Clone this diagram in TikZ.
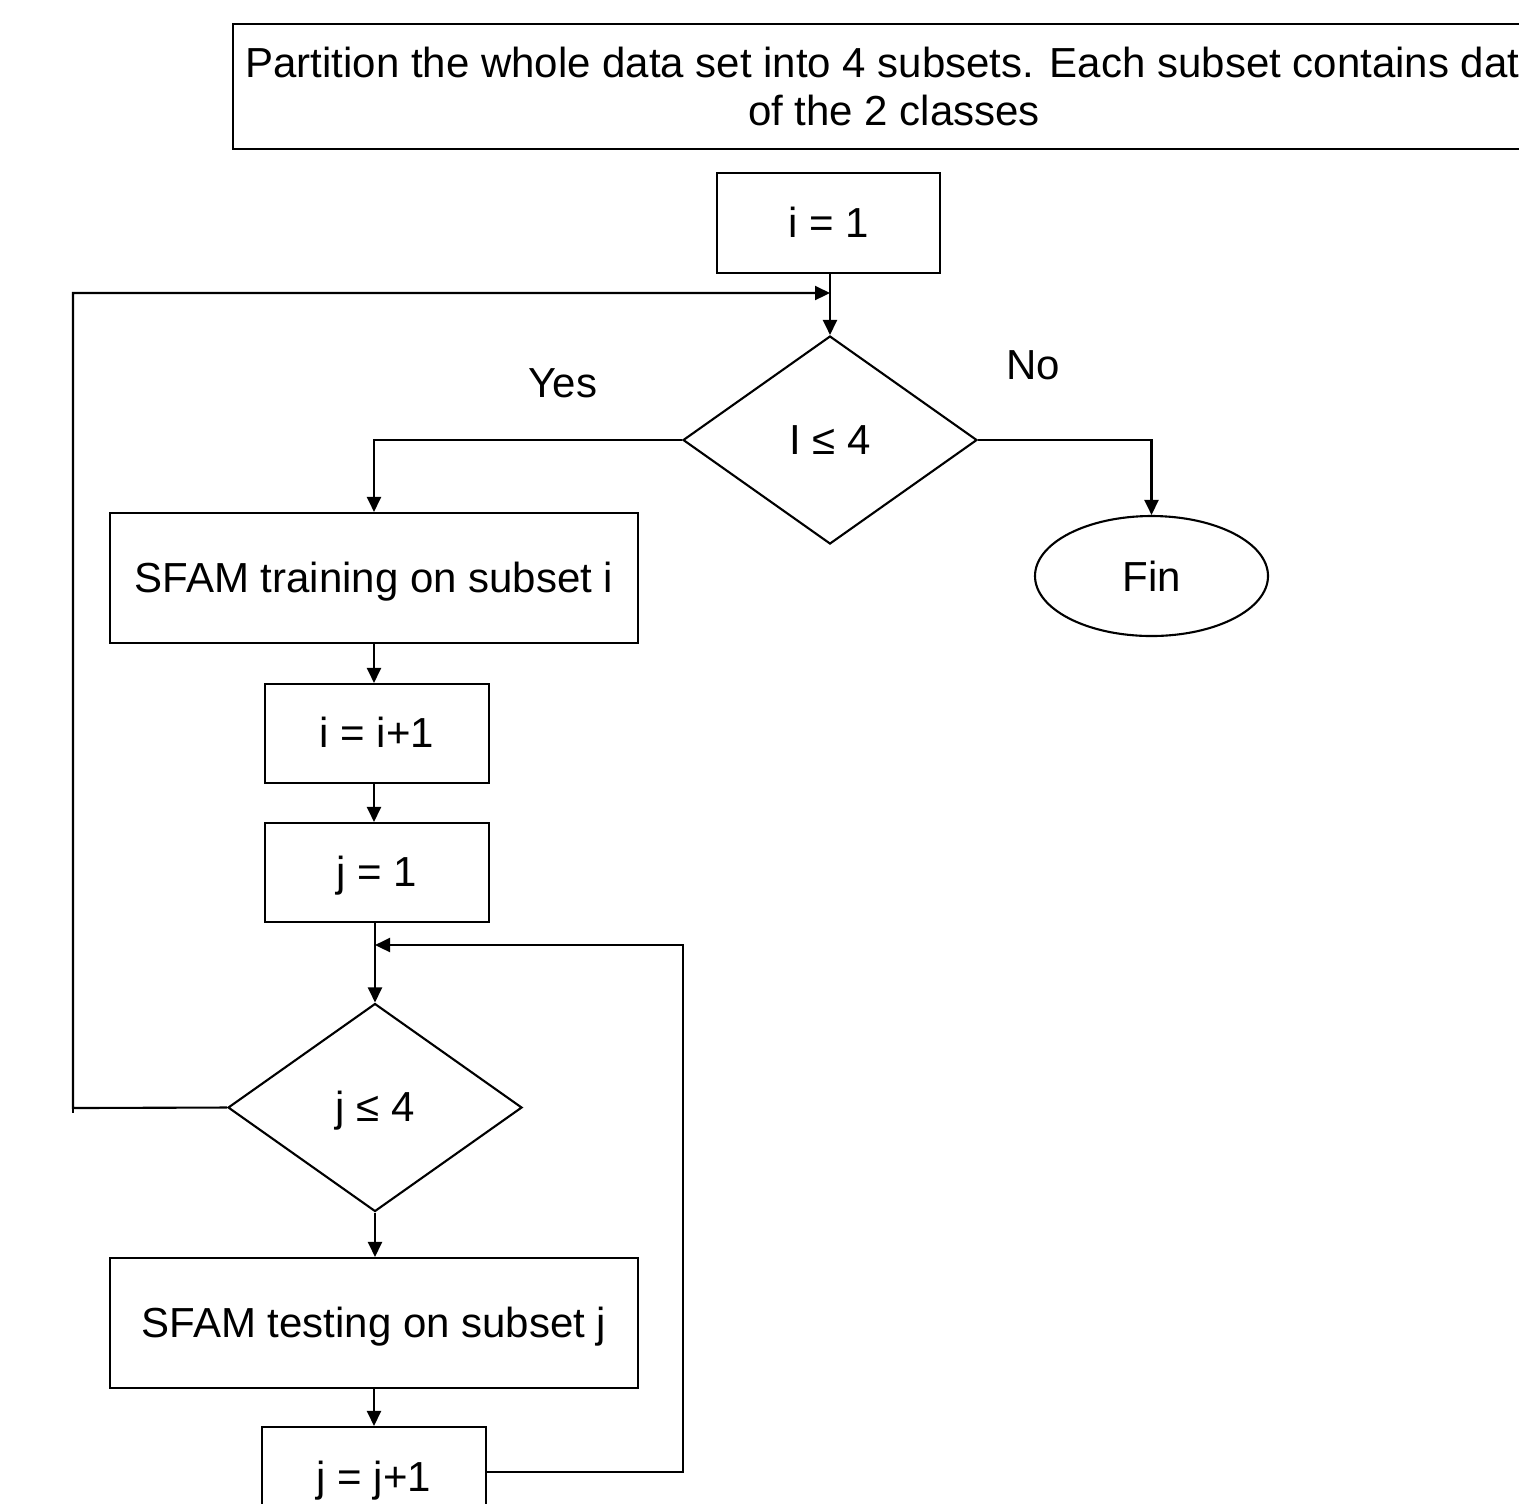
\documentclass[tikz,border=0pt]{standalone}
\usepackage{fontspec}
\setmainfont{Liberation Sans}
\usetikzlibrary{shapes.geometric,arrows.meta}
\begin{document}
\begin{tikzpicture}[
  every node/.style={font=\fontsize{11.95}{13.7}\selectfont},
  one/.style={text height=1.0em, text depth=0.2em},
  box/.style={draw, line width=0.6pt, rectangle, inner sep=0pt, align=center},
  dia/.style={draw, line width=0.6pt, diamond, inner sep=0pt, minimum width=2.94cm, minimum height=2.08cm, one},
  term/.style={draw, line width=0.6pt, ellipse, inner sep=0pt, minimum width=2.33cm, minimum height=1.20cm},
  conn/.style={line width=0.6pt, -{Triangle[length=0.15cm,width=0.14cm]}},
  plain/.style={line width=0.6pt},
  lbl/.style={inner sep=0pt}
]
\useasboundingbox (0,0) rectangle (15.19,-15.03);
\clip (0,0) rectangle (15.19,-15.03);
\fill[white] (0,0) rectangle (15.19,-15.03);

\node[box, minimum width=13.22cm, minimum height=1.25cm] (top) at (8.94,-0.865)
  {Partition the whole data set into 4 subsets. Each subset contains data\\of the 2 classes};
\node[box, one, minimum width=2.23cm, minimum height=1.00cm] (i1) at (8.285,-2.23) {i = 1};
\node[dia] (d1) at (8.30,-4.40) {I ≤ 4};
\node[term] (fin) at (11.515,-5.76) {Fin};
\node[box, one, minimum width=5.28cm, minimum height=1.30cm] (train) at (3.74,-5.78) {SFAM training on subset i};
\node[box, one, minimum width=2.24cm, minimum height=0.99cm] (inci) at (3.77,-7.335) {i = i+1};
\node[box, one, minimum width=2.24cm, minimum height=0.99cm] (j1) at (3.77,-8.725) {j = 1};
\node[dia] (d2) at (3.75,-11.075) {j ≤ 4};
\node[box, one, minimum width=5.28cm, minimum height=1.30cm] (test) at (3.74,-13.23) {SFAM testing on subset j};
\node[box, one, minimum width=2.24cm, minimum height=1.00cm] (incj) at (3.74,-14.77) {j = j+1};

\node[lbl] (yes) at (5.63,-3.83) {Yes};
\node[lbl] (no) at (10.33,-3.65) {No};

\coordinate (m1) at (8.30,-2.93);
\coordinate (m2) at (3.75,-9.45);
\coordinate (L1) at (0.73,-11.08);
\coordinate (L2) at (0.73,-2.93);
\coordinate (R1) at (6.83,-14.72);
\coordinate (R2) at (6.83,-9.45);

\draw[conn] (i1.south -| m1) -- (d1.north);
\draw[conn] (d2.west) -- (L1) -- (L2) -- (m1);
\draw[plain] (L1) -- ++(0,-0.05);
\draw[conn] (d1.west) -| (train.north);
\draw[conn] (d1.east) -| (fin.north);
\draw[conn] (train.south) -- (train.south |- inci.north);
\draw[conn] (inci.south -| train.south) -- (train.south |- j1.north);
\draw[conn] (j1.south -| d2.north) -- (d2.north);
\draw[conn] (d2.south) -- (d2.south |- test.north);
\draw[conn] (test.south) -- (incj.north);
\draw[conn] (incj.east |- R1) -- (R1) -- (R2) -- (m2);
\end{tikzpicture}
\end{document}
